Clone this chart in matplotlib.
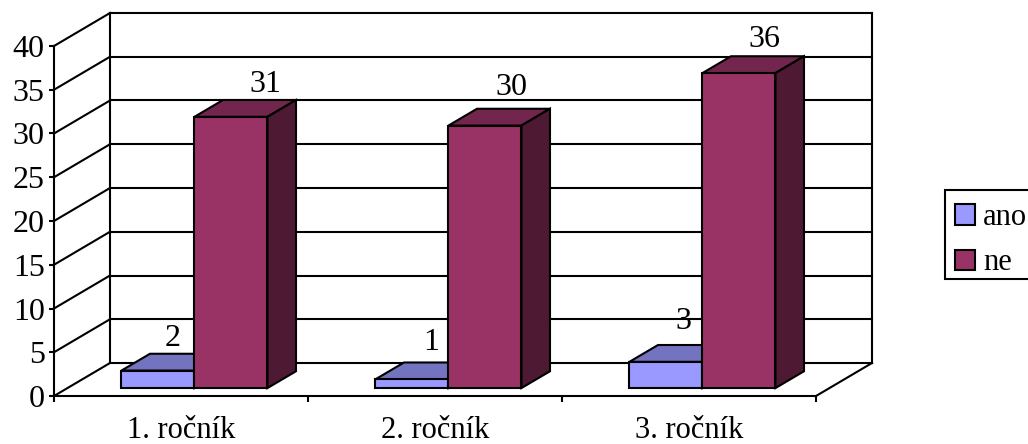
import matplotlib
matplotlib.use("Agg")
import matplotlib.pyplot as plt
from matplotlib.patches import Polygon, Patch, Rectangle

categories = ["1. ročník", "2. ročník", "3. ročník"]
ano = [2, 1, 3]
ne = [31, 30, 36]
series_names = ["ano", "ne"]
y_ticks = [0, 5, 10, 15, 20, 25, 30, 35, 40]

plt.rcParams["font.family"] = ["Liberation Serif", "DejaVu Serif"]
W, H = 1028, 444
FS = 22
LW = 1.5
fig = plt.figure(figsize=(W / 100, H / 100), dpi=100, facecolor="white")
ax = fig.add_axes([54 / W, 1 - 396 / H, (816 - 54) / W, (396 - 46) / H])
ax.set_xlim(0, 3)
ax.set_ylim(0, 40)
ax.patch.set_alpha(0)
for s in ["top", "right"]:
    ax.spines[s].set_visible(False)
for s in ["left", "bottom"]:
    ax.spines[s].set_linewidth(LW)
    ax.spines[s].set_zorder(5)

DX = 56 / 254   # full floor depth in category units
DY = 33 / 8.75  # full floor depth in value units


def P(x, v, d):
    return (x + d * DX, v + d * DY)


def line(a, b, z=1):
    ax.plot([a[0], b[0]], [a[1], b[1]], color="black", lw=LW, clip_on=False,
            zorder=z, solid_capstyle="projecting")


# walls and gridlines
for v in y_ticks:
    line(P(0, v, 0), P(0, v, 1))
    line(P(0, v, 1), P(3, v, 1))
line(P(0, 0, 1), P(0, 40, 1))
line(P(3, 0, 1), P(3, 40, 1))
line(P(3, 0, 0), P(3, 0, 1))

BW = 73 / 254
GAP = (1 - 2 * BW) / 2
D0, D1 = 0.24, 0.75
COL = {"ano": ("#9999FF", "#7373BF", "#4D4D80"), "ne": ("#993366", "#73264D", "#4D1933")}


def bar(x0, v, name, z):
    x1 = x0 + BW
    front, top, side = COL[name]
    kw = dict(edgecolor="black", lw=LW, clip_on=False, zorder=z, joinstyle="miter")
    ax.add_patch(Polygon([P(x0, v, D0), P(x1, v, D0), P(x1, v, D1), P(x0, v, D1)], facecolor=top, **kw))
    ax.add_patch(Polygon([P(x1, 0, D0), P(x1, v, D0), P(x1, v, D1), P(x1, 0, D1)], facecolor=side, **kw))
    ax.add_patch(Polygon([P(x0, 0, D0), P(x1, 0, D0), P(x1, v, D0), P(x0, v, D0)], facecolor=front, **kw))


z = 2
for i in range(len(categories)):
    bar(i + GAP, ano[i], "ano", z)
    z += 1
    bar(i + GAP + BW, ne[i], "ne", z)
    z += 1

# value labels: pixel offsets from the front-top centre of each bar
off_ano = [(14.5, 36), (19.5, 40), (17, 44)]
off_ne = [(34, 36), (26, 42), (25, 37)]
for i in range(len(categories)):
    for vals, offs, x0 in ((ano, off_ano, i + GAP), (ne, off_ne, i + GAP + BW)):
        px, py = P(x0 + BW / 2, vals[i], D0)
        ax.annotate(str(vals[i]), (px, py), xytext=(offs[i][0] * 0.72, offs[i][1] * 0.72),
                    textcoords="offset points", ha="center", va="center_baseline",
                    fontsize=23, zorder=30, annotation_clip=False)

ax.set_xticks(range(4))
ax.set_xticklabels([])
ax.set_xticks([0.5, 1.5, 2.5], categories, minor=True)
ax.tick_params(axis="x", which="major", length=5.5 * 0.72, width=LW, direction="out")
ax.tick_params(axis="x", which="minor", length=0, labelsize=FS, pad=14.5)
ax.set_yticks(y_ticks)
ax.tick_params(axis="y", length=5 * 0.72, width=LW, labelsize=23, pad=3)

# legend frame and entries
fig.add_artist(Rectangle((945 / W, 1 - 279 / H), 90 / W, 89 / H, transform=fig.transFigure,
                         facecolor="white", edgecolor="black", lw=LW))
handles = [Patch(facecolor=COL[n][0], edgecolor="black", lw=LW) for n in series_names]
leg = fig.legend(handles, series_names, loc="upper left",
                 bbox_to_anchor=(955 / W, 1 - 203 / H), bbox_transform=fig.transFigure,
                 fontsize=FS, frameon=False,
                 borderaxespad=0, borderpad=0, handlelength=0.655, handleheight=0.655,
                 handletextpad=0.26, labelspacing=0.54)
leg.set_zorder(10)

fig.savefig("out.png", dpi=100)
